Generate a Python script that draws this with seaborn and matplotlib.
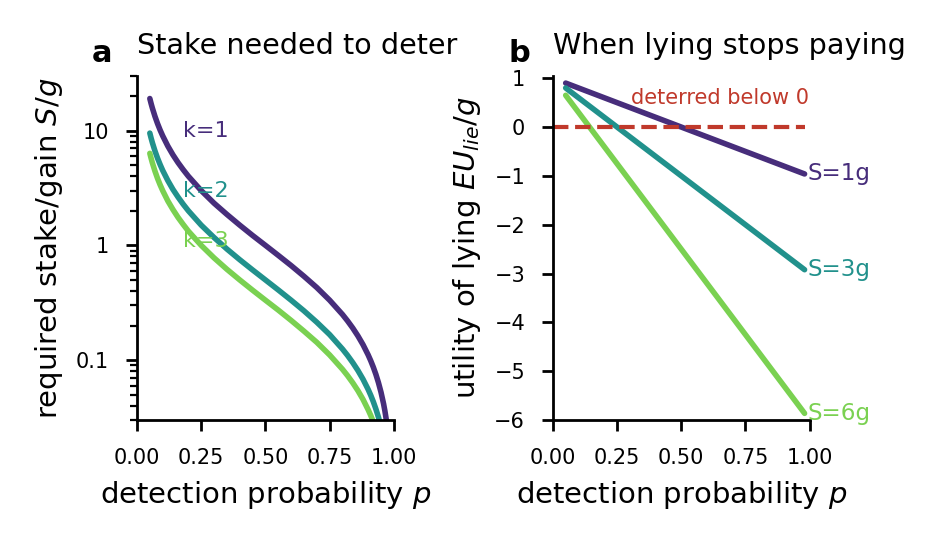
import matplotlib
matplotlib.use("Agg")
import matplotlib.pyplot as plt
import matplotlib.ticker as mticker
import seaborn as sns

# %% data

# panel a: stake needed to deter, for k = 1, 2, 3
p_a = [0.05, 0.055, 0.06, 0.07, 0.08, 0.09, 0.10, 0.12, 0.14, 0.16, 0.18, 0.20,
       0.25, 0.30, 0.35, 0.40, 0.45, 0.50, 0.55, 0.60, 0.65, 0.70, 0.75, 0.80,
       0.82, 0.84, 0.86, 0.88, 0.90, 0.91, 0.92, 0.93, 0.94, 0.95, 0.96, 0.965,
       0.97, 0.975]
stake_k1 = [19.0, 17.18, 15.67, 13.29, 11.5, 10.11, 9.0, 7.33, 6.14, 5.25, 4.56, 4.0,
            3.0, 2.33, 1.86, 1.5, 1.22, 1.0, 0.818, 0.667, 0.538, 0.429, 0.333, 0.25,
            0.2195, 0.1905, 0.1628, 0.1364, 0.1111, 0.0989, 0.0870, 0.0753, 0.0638,
            0.0526, 0.0417, 0.0363, 0.0309, 0.0256]
stake_k2 = [9.5, 8.59, 7.83, 6.64, 5.75, 5.06, 4.5, 3.67, 3.07, 2.63, 2.28, 2.0,
            1.5, 1.17, 0.929, 0.75, 0.611, 0.5, 0.409, 0.333, 0.269, 0.214, 0.167, 0.125,
            0.1098, 0.0952, 0.0814, 0.0682, 0.0556, 0.0495, 0.0435, 0.0376, 0.0319,
            0.0263, 0.0208, 0.0181, 0.0155, 0.0128]
stake_k3 = [6.33, 5.73, 5.22, 4.43, 3.83, 3.37, 3.0, 2.44, 2.05, 1.75, 1.52, 1.33,
            1.0, 0.778, 0.619, 0.5, 0.407, 0.333, 0.273, 0.222, 0.179, 0.143, 0.111, 0.0833,
            0.0732, 0.0635, 0.0543, 0.0455, 0.0370, 0.0330, 0.0290, 0.0251, 0.0213,
            0.0175, 0.0139, 0.0121, 0.0103, 0.0085]
k_labels = ["k=1", "k=2", "k=3"]
k_label_y = [10, 3, 1.1]

# panel b: expected utility of lying for S = 1g, 3g, 6g
p_b = [0.05, 0.98]
eu_s1 = [0.90, -0.96]
eu_s3 = [0.80, -2.92]
eu_s6 = [0.65, -5.86]
s_labels = ["S=1g", "S=3g", "S=6g"]

colors = ["#472d7b", "#21918c", "#7ad151"]
red = "#c0392b"

# %% style
sns.set_style("ticks")
plt.rcParams["font.family"] = ["DejaVu Sans"]
plt.rcParams.update({
    "axes.linewidth": 1.0,
    "xtick.major.size": 4, "ytick.major.size": 4,
    "xtick.minor.size": 2.5, "ytick.minor.size": 2.5,
    "xtick.major.width": 1.0, "ytick.major.width": 1.0,
    "ytick.minor.width": 0.8,
    "xtick.major.pad": 6, "ytick.major.pad": 6,
    "xtick.labelsize": 7.5, "ytick.labelsize": 7.5,
    "axes.labelsize": 10.5,
    "xtick.color": "black", "ytick.color": "black",
    "axes.edgecolor": "black", "axes.labelcolor": "black",
    "text.color": "black",
})

fig, (ax1, ax2) = plt.subplots(1, 2, figsize=(4.675, 2.725), dpi=200)
fig.subplots_adjust(left=0.1465, right=0.866, bottom=0.229, top=0.861, wspace=0.619)

# %% panel a
for y, c in zip([stake_k1, stake_k2, stake_k3], colors):
    sns.lineplot(x=p_a, y=y, ax=ax1, color=c, lw=2, estimator=None, sort=False)
ax1.set_yscale("log")
ax1.set_xlim(0, 1)
ax1.set_ylim(0.03, 30)
ax1.set_xticks([0, 0.25, 0.5, 0.75, 1.0])
ax1.xaxis.set_major_formatter(mticker.FormatStrFormatter("%.2f"))
ax1.set_yticks([0.1, 1, 10])
ax1.set_yticklabels(["0.1", "1", "10"])
ax1.yaxis.set_minor_formatter(mticker.NullFormatter())
for lab, ly, c in zip(k_labels, k_label_y, colors):
    ax1.text(0.18, ly, lab, color=c, fontsize=8, ha="left", va="center")
ax1.set_xlabel("detection probability $p$")
ax1.set_ylabel("required stake/gain $S/g$")
ax1.set_title("Stake needed to deter", loc="left", fontsize=10.3, pad=8)
ax1.text(-0.175, 1.04, "a", transform=ax1.transAxes, fontsize=11,
         fontweight="bold", ha="left", va="baseline")

# %% panel b
for y, c in zip([eu_s1, eu_s3, eu_s6], colors):
    sns.lineplot(x=p_b, y=y, ax=ax2, color=c, lw=2, estimator=None, sort=False)
ax2.hlines(0, 0, 0.98, colors=red, linestyles="--", lw=1.5)
ax2.text(0.65, 0.6, "deterred below 0", color=red, fontsize=7.5, ha="center", va="center")
for lab, y, c in zip(s_labels, [eu_s1, eu_s3, eu_s6], colors):
    ax2.text(p_b[-1] + 0.01, y[-1], lab, color=c, fontsize=8.3, ha="left", va="center")
ax2.set_xlim(0, 1)
ax2.set_ylim(-6, 1.05)
ax2.set_xticks([0, 0.25, 0.5, 0.75, 1.0])
ax2.xaxis.set_major_formatter(mticker.FormatStrFormatter("%.2f"))
ax2.set_yticks(range(-6, 2))
ax2.set_xlabel("detection probability $p$")
ax2.set_ylabel("utility of lying $EU_{lie}/g$")
ax2.set_title("When lying stops paying", loc="left", fontsize=10.3, pad=8)
ax2.text(-0.171, 1.04, "b", transform=ax2.transAxes, fontsize=11,
         fontweight="bold", ha="left", va="baseline")

sns.despine(fig)
fig.savefig("out.png", dpi=200)
